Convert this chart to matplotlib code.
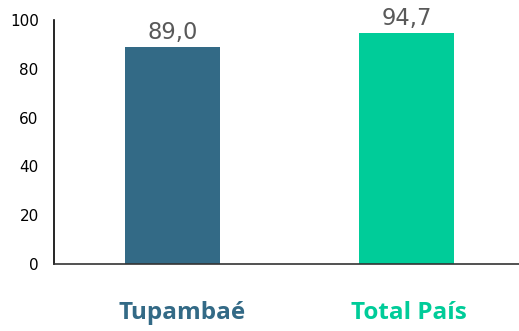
import matplotlib
matplotlib.use("Agg")
import matplotlib.pyplot as plt

categories = ["Tupambaé", "Total País"]
values = [89.0, 94.7]
value_labels = ["89,0", "94,7"]
bar_colors = ["#336A86", "#00CC99"]
yticks = [0, 20, 40, 60, 80, 100]

fig = plt.figure(figsize=(5.19, 3.31), dpi=100)
ax = fig.add_axes([54 / 519, 1 - 264 / 331, 465 / 519, 244 / 331])

x = list(range(len(categories)))
ax.bar(x, values, width=0.406, color=bar_colors, zorder=2)

for xi, v, lab in zip(x, values, value_labels):
    ax.text(xi, v + 1.2, lab, ha="center", va="bottom",
            fontsize=16.3, color="#595959", family="DejaVu Sans")

ax.set_xlim(-0.506, 1.481)
ax.set_ylim(0, 100)
ax.set_yticks(yticks)
ax.set_yticklabels([str(t) for t in yticks], fontsize=11)
ax.tick_params(axis="y", length=0, pad=11)
ax.set_xticks(x)
ax.set_xticklabels([])
ax.tick_params(axis="x", length=0)

label_shift = [10, 2]
for xi, cat, col, dx in zip(x, categories, bar_colors, label_shift):
    ax.annotate(cat, xy=(xi, 0), xycoords="data", xytext=(dx, -49),
                textcoords="offset pixels",
                ha="center", va="center", fontsize=17.5, fontweight="bold",
                family="Open Sans", color=col, annotation_clip=False)

for s in ["top", "right"]:
    ax.spines[s].set_visible(False)
ax.spines["left"].set_color("black")
ax.spines["left"].set_linewidth(1.2)
ax.spines["bottom"].set_color("#333333")
ax.spines["bottom"].set_linewidth(1.2)

fig.savefig("out.png", dpi=100)
